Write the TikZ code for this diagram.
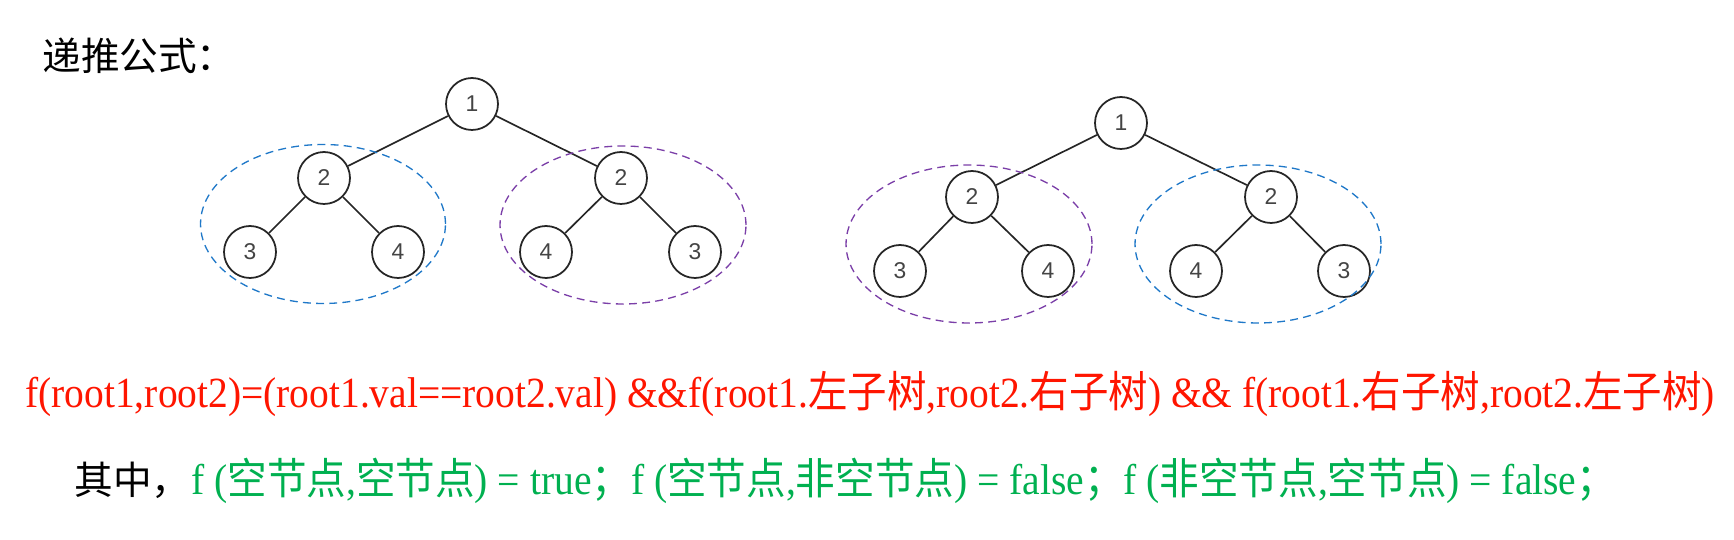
\documentclass[tikz,border=0pt]{standalone}
\usepackage{fontspec}
\usepackage{graphicx}
\setmainfont{Liberation Serif}
\setsansfont{Liberation Sans}
\newfontfamily\cjk{Noto Sans CJK SC}
\usetikzlibrary{positioning}
\definecolor{treeline}{HTML}{262626}
\definecolor{digit}{HTML}{444444}
\definecolor{ringblue}{HTML}{1F78C8}
\definecolor{ringpurple}{HTML}{7B3FA8}
\definecolor{formred}{HTML}{FF1500}
\definecolor{formgreen}{HTML}{00B050}

\begin{document}
\begin{tikzpicture}[x=0.02cm,y=-0.02cm,
  treenode/.style={circle, draw=treeline, line width=1pt, minimum size=1.04cm, inner sep=0pt, text=digit, font=\sffamily\fontsize{13}{13}\selectfont},
  branch/.style={draw=treeline, line width=0.95pt},
  ring/.style={dash pattern=on 4.5pt off 3pt, line width=0.75pt}]
\useasboundingbox (0,0) rectangle (1734,540);
\node[anchor=west, inner sep=0pt, font=\cjk\fontsize{22}{26}\selectfont] (title) at (42,56) {递推公式：};

\node[treenode] (la) at (472,104) {1};
\node[treenode] (lb) at (324,178) {2};
\node[treenode] (lc) at (621,178) {2};
\node[treenode] (ld) at (250,252) {3};
\node[treenode] (le) at (398,252) {4};
\node[treenode] (lf) at (546,252) {4};
\node[treenode] (lg) at (695,252) {3};
\draw[branch] (la) -- (lb) (la) -- (lc) (lb) -- (ld) (lb) -- (le) (lc) -- (lf) (lc) -- (lg);
\draw[ring, draw=ringblue] (323,224) ellipse [x radius=2.45cm, y radius=1.59cm];
\draw[ring, draw=ringpurple] (623,225) ellipse [x radius=2.46cm, y radius=1.58cm];

\node[treenode] (ra) at (1121,123) {1};
\node[treenode] (rb) at (972,197) {2};
\node[treenode] (rc) at (1271,197) {2};
\node[treenode] (rd) at (900,271) {3};
\node[treenode] (re) at (1048,271) {4};
\node[treenode] (rf) at (1196,271) {4};
\node[treenode] (rg) at (1344,271) {3};
\draw[branch] (ra) -- (rb) (ra) -- (rc) (rb) -- (rd) (rb) -- (re) (rc) -- (rf) (rc) -- (rg);
\draw[ring, draw=ringpurple] (969,244) ellipse [x radius=2.46cm, y radius=1.58cm];
\draw[ring, draw=ringblue] (1258,244) ellipse [x radius=2.46cm, y radius=1.58cm];

\node[anchor=base west, inner sep=0pt, text=formred] (recur) at (25,407) {\resizebox{33.8cm}{\height}{\fontsize{24.5}{28}\selectfont f(root1,root2)=(root1.val==root2.val) \&\&f(root1.{\cjk 左子树},root2.{\cjk 右子树}) \&\& f(root1.{\cjk 右子树},root2.{\cjk 左子树})}};
\node[anchor=base west, inner sep=0pt, font=\cjk\fontsize{22}{26}\selectfont] (where) at (74,494) {其中，};
\node[anchor=base west, inner sep=0pt, text=formgreen] (base) at (191,494) {\resizebox{28.5cm}{\height}{\fontsize{24.5}{28}\selectfont f ({\cjk 空节点},{\cjk 空节点}) = true{\cjk ；}f ({\cjk 空节点},{\cjk 非空节点}) = false{\cjk ；}f ({\cjk 非空节点},{\cjk 空节点}) = false{\cjk ；}}};
\end{tikzpicture}
\end{document}
